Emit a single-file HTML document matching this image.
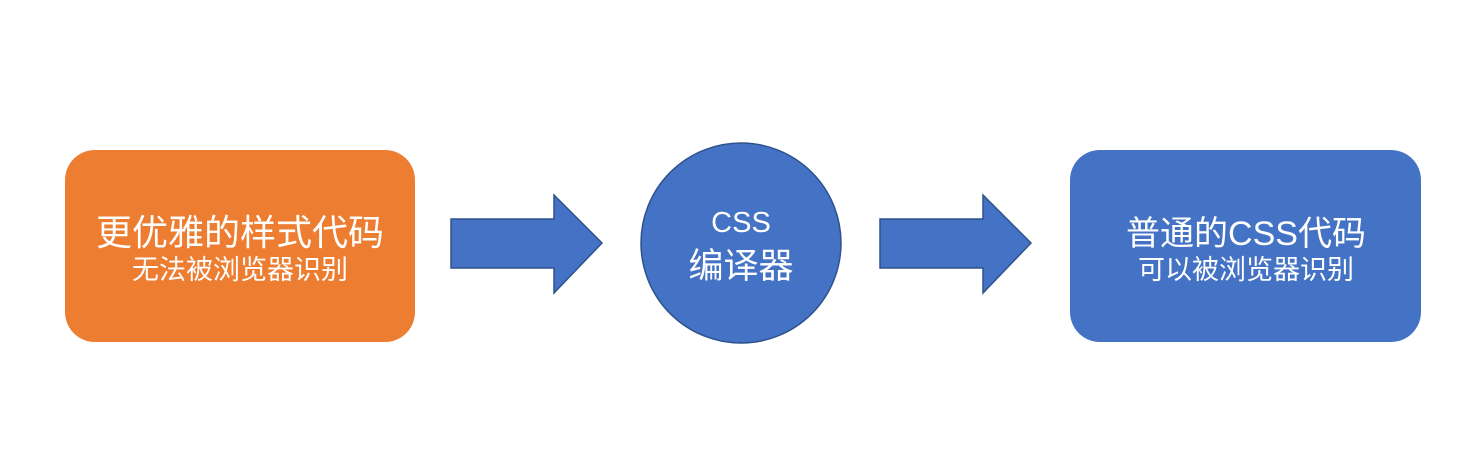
<!DOCTYPE html>
<html><head><meta charset="utf-8"><style>
body{margin:0;width:1469px;height:457px;background:#fff;overflow:hidden;font-family:"Liberation Sans","Noto Sans CJK SC",sans-serif;}
</style></head><body>
<svg width="1469" height="457" xmlns="http://www.w3.org/2000/svg" style="position:absolute;left:0;top:0">
<rect x="65" y="150" width="350" height="192" rx="30" fill="#ed7d31"/>
<rect x="1070" y="150" width="351" height="192" rx="30" fill="#4472c4"/>
<polygon points="451,219 554,219 554,195 602,243 554,293 554,268 451,268" fill="#4472c4" stroke="#2f528f" stroke-width="1.5"/>
<polygon points="880,219 983,219 983,195 1031,243 983,293 983,268 880,268" fill="#4472c4" stroke="#2f528f" stroke-width="1.5"/>
<circle cx="741" cy="243" r="100" fill="#4472c4" stroke="#2f528f" stroke-width="1.5"/>
<g fill="#fff" text-anchor="middle" font-family="'Liberation Sans','Noto Sans CJK SC',sans-serif">
<text x="240" y="245" font-size="36">更优雅的样式代码</text>
<text x="240" y="279" font-size="27">无法被浏览器识别</text>
<text x="741" y="232" font-size="29">CSS</text>
<text x="741" y="278" font-size="35">编译器</text>
<text x="1246" y="245" font-size="34">普通的CSS代码</text>
<text x="1246" y="279" font-size="27">可以被浏览器识别</text>
</g>
</svg>
</body></html>
